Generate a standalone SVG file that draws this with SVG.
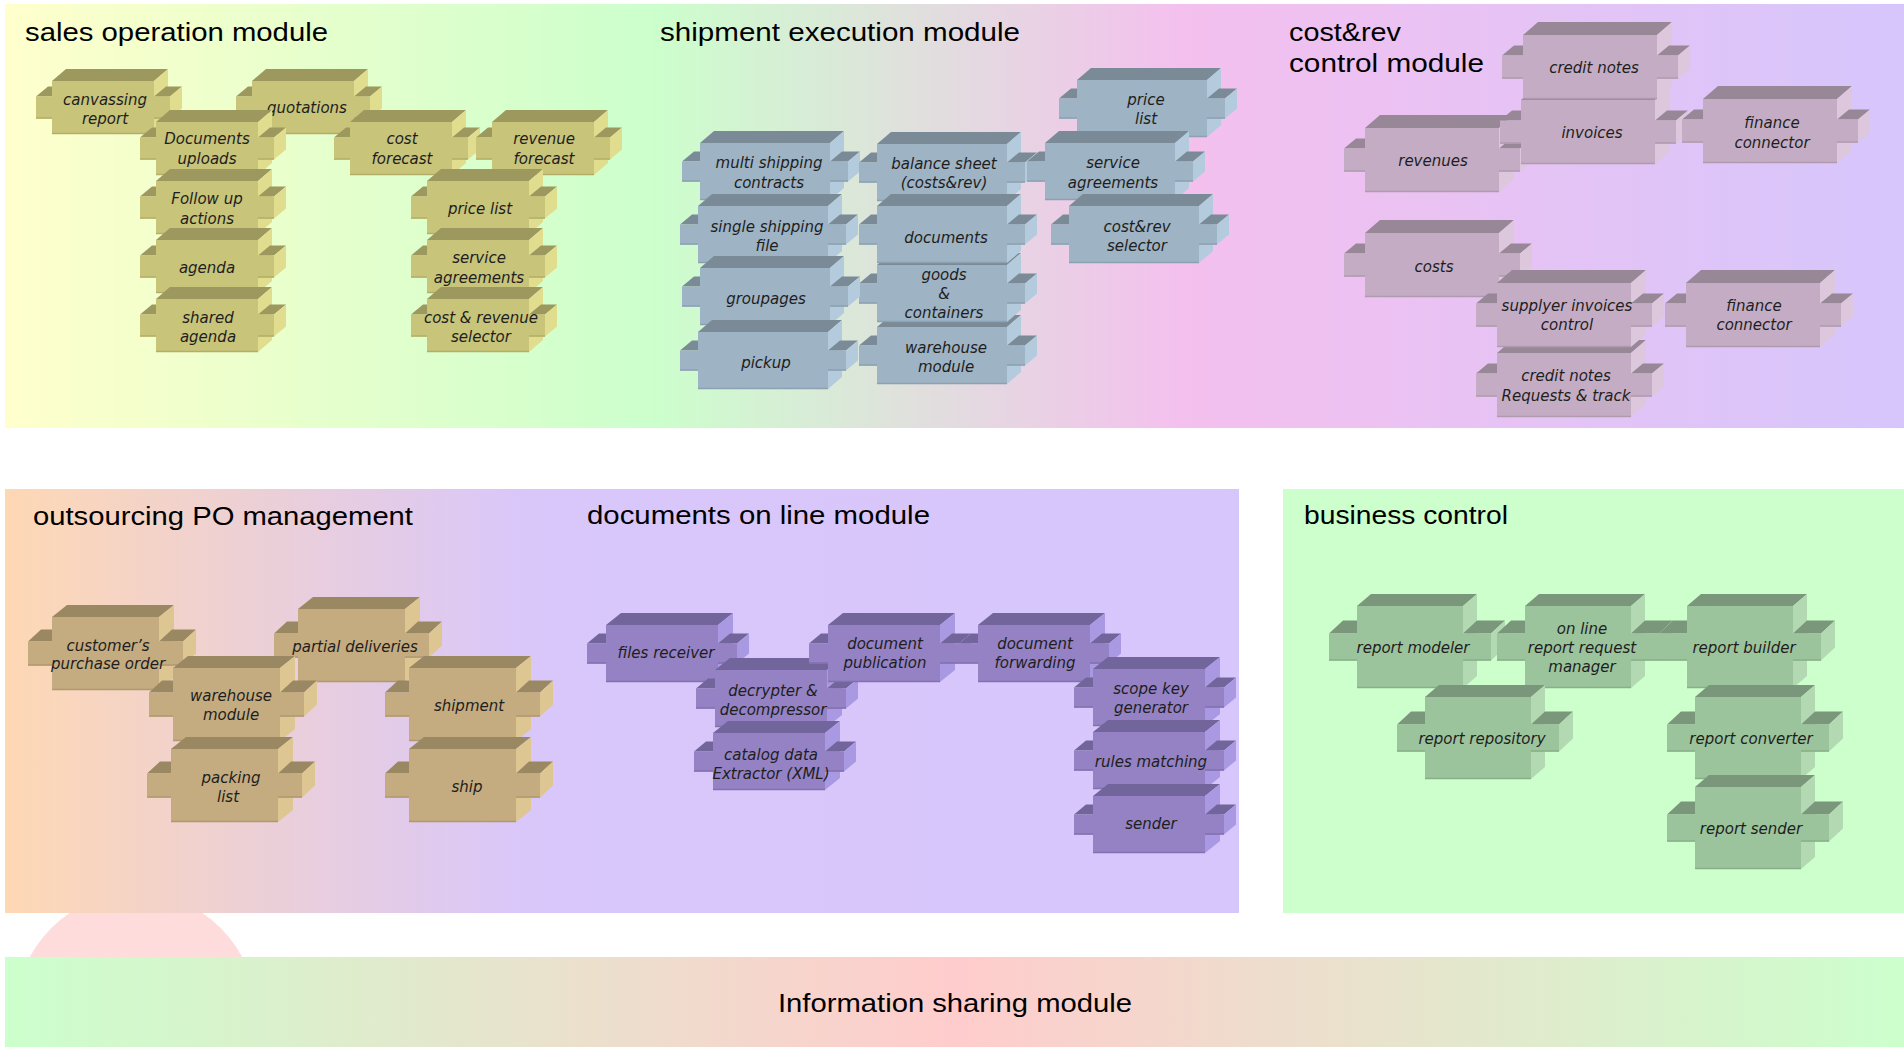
<svg xmlns="http://www.w3.org/2000/svg" xmlns:xlink="http://www.w3.org/1999/xlink" width="1904" height="1047" viewBox="0 0 1904 1047">
<style>
.title{font-family:"Liberation Sans",Arial,sans-serif;font-size:26px;fill:#000}
.lbl{font-family:"DejaVu Sans","Liberation Sans",sans-serif;font-style:italic;font-size:15px;fill:#1e1e1e;text-anchor:middle}
</style>
<defs>
<linearGradient id="gTop" x1="0" y1="0" x2="1" y2="0">
<stop offset="0" stop-color="#ffffcc"/>
<stop offset="0.34" stop-color="#ccffcc"/>
<stop offset="0.62" stop-color="#f4c0ee"/>
<stop offset="1" stop-color="#d6c6fc"/>
</linearGradient>
<linearGradient id="gBL" x1="0" y1="0" x2="1" y2="0">
<stop offset="0" stop-color="#fed8b4"/>
<stop offset="0.42" stop-color="#d9c7fa"/>
<stop offset="1" stop-color="#d7c6fc"/>
</linearGradient>
<linearGradient id="gInfo" x1="0" y1="0" x2="1" y2="0">
<stop offset="0" stop-color="#ccffcc"/>
<stop offset="0.5" stop-color="#ffcccc"/>
<stop offset="1" stop-color="#ccffcc"/>
</linearGradient>
<g id="box-sales">
<polygon fill="#9c985e" points="-16,15.5 0,15.5 12,5.5 -4,5.5"/>
<rect fill="#c8c47a" x="-16" y="15.5" width="16" height="22"/>
<polygon fill="#9c985e" points="0,0 102,0 116,-12 14,-12"/>
<polygon fill="#e0de8e" points="102,0 116,-12 116,41 102,53"/>
<rect fill="#c8c47a" x="0" y="0" width="102" height="53"/>
<polygon fill="#9c985e" points="102,15.5 118,15.5 130,5.5 114,5.5"/>
<polygon fill="#e0de8e" points="118,15.5 130,5.5 130,27.5 118,37.5"/>
<rect fill="#c8c47a" x="102" y="15.5" width="16" height="22"/>
<path d="M0,52.5H102M-16,37H0M102,37H118" stroke="#b2ae68" stroke-width="1.5"/>
</g>
<g id="box-ship">
<polygon fill="#7a8b97" points="-18,18.5 0,18.5 12,8.5 -6,8.5"/>
<rect fill="#9eb3c3" x="-18" y="18.5" width="18" height="20"/>
<polygon fill="#7a8b97" points="0,0 130,0 144,-12 14,-12"/>
<polygon fill="#b3cbdd" points="130,0 144,-12 144,45 130,57"/>
<rect fill="#9eb3c3" x="0" y="0" width="130" height="57"/>
<polygon fill="#7a8b97" points="130,18.5 148,18.5 160,8.5 142,8.5"/>
<polygon fill="#b3cbdd" points="148,18.5 160,8.5 160,28.5 148,38.5"/>
<rect fill="#9eb3c3" x="130" y="18.5" width="18" height="20"/>
<path d="M0,56.5H130M-18,38H0M130,38H148" stroke="#8ca1b1" stroke-width="1.5"/>
</g>
<g id="box-cost">
<polygon fill="#978797" points="-21,20.5 0,20.5 12,10.5 -9,10.5"/>
<rect fill="#c4adc4" x="-21" y="20.5" width="21" height="23"/>
<polygon fill="#978797" points="0,0 134,0 149,-13 15,-13"/>
<polygon fill="#dcc7dc" points="134,0 149,-13 149,51 134,64"/>
<rect fill="#c4adc4" x="0" y="0" width="134" height="64"/>
<polygon fill="#978797" points="134,20.5 155,20.5 167,10.5 146,10.5"/>
<polygon fill="#dcc7dc" points="155,20.5 167,10.5 167,33.5 155,43.5"/>
<rect fill="#c4adc4" x="134" y="20.5" width="21" height="23"/>
<path d="M0,63.5H134M-21,43H0M134,43H155" stroke="#b09ab0" stroke-width="1.5"/>
</g>
<g id="box-out">
<polygon fill="#9a8862" points="-24,24.5 0,24.5 13,12.5 -11,12.5"/>
<rect fill="#c4ac80" x="-24" y="24.5" width="24" height="24"/>
<polygon fill="#9a8862" points="0,0 107,0 122,-12 15,-12"/>
<polygon fill="#dec692" points="107,0 122,-12 122,61 107,73"/>
<rect fill="#c4ac80" x="0" y="0" width="107" height="73"/>
<polygon fill="#9a8862" points="107,24.5 131,24.5 144,12.5 120,12.5"/>
<polygon fill="#dec692" points="131,24.5 144,12.5 144,36.5 131,48.5"/>
<rect fill="#c4ac80" x="107" y="24.5" width="24" height="24"/>
<path d="M0,72.5H107M-24,48H0M107,48H131" stroke="#b09870" stroke-width="1.5"/>
</g>
<g id="box-docs">
<polygon fill="#72659b" points="-19,18.5 0,18.5 12,8.5 -7,8.5"/>
<rect fill="#9482c4" x="-19" y="18.5" width="19" height="20"/>
<polygon fill="#72659b" points="0,0 112,0 127,-12 15,-12"/>
<polygon fill="#a999e2" points="112,0 127,-12 127,45 112,57"/>
<rect fill="#9482c4" x="0" y="0" width="112" height="57"/>
<polygon fill="#72659b" points="112,18.5 131,18.5 143,8.5 124,8.5"/>
<polygon fill="#a999e2" points="131,18.5 143,8.5 143,28.5 131,38.5"/>
<rect fill="#9482c4" x="112" y="18.5" width="19" height="20"/>
<path d="M0,56.5H112M-19,38H0M112,38H131" stroke="#8270b0" stroke-width="1.5"/>
</g>
<g id="box-biz">
<polygon fill="#7b977b" points="-28,27.5 0,27.5 14,14.5 -14,14.5"/>
<rect fill="#9cc49c" x="-28" y="27.5" width="28" height="27"/>
<polygon fill="#7b977b" points="0,0 106,0 120,-12 14,-12"/>
<polygon fill="#b3d9b3" points="106,0 120,-12 120,70 106,82"/>
<rect fill="#9cc49c" x="0" y="0" width="106" height="82"/>
<polygon fill="#7b977b" points="106,27.5 134,27.5 148,14.5 120,14.5"/>
<polygon fill="#b3d9b3" points="134,27.5 148,14.5 148,41.5 134,54.5"/>
<rect fill="#9cc49c" x="106" y="27.5" width="28" height="27"/>
<path d="M0,81.5H106M-28,54H0M106,54H134" stroke="#88b088" stroke-width="1.5"/>
</g>
</defs>

<rect width="1904" height="1047" fill="#ffffff"/>
<circle cx="136" cy="1013" r="120" fill="#fedcdc"/>

<g id="panels">
<rect id="panel-top" x="5" y="4" width="1899" height="424" fill="url(#gTop)"/>
<rect id="panel-outsourcing-docs" x="5" y="489" width="1234" height="424" fill="url(#gBL)"/>
<rect id="panel-business" x="1283" y="489" width="621" height="424" fill="#ccffcc"/>
<rect id="panel-info" x="5" y="957" width="1899" height="90" fill="url(#gInfo)"/>
</g>

<g id="titles">
<text class="title" x="25" y="41" textLength="303" lengthAdjust="spacingAndGlyphs">sales operation module</text>
<text class="title" x="660" y="41" textLength="360" lengthAdjust="spacingAndGlyphs">shipment execution module</text>
<text class="title" x="1289" y="41" textLength="112" lengthAdjust="spacingAndGlyphs">cost&amp;rev</text>
<text class="title" x="1289" y="72" textLength="195" lengthAdjust="spacingAndGlyphs">control module</text>
<text class="title" x="33" y="525" textLength="380" lengthAdjust="spacingAndGlyphs">outsourcing PO management</text>
<text class="title" x="587" y="524" textLength="343" lengthAdjust="spacingAndGlyphs">documents on line module</text>
<text class="title" x="1304" y="524" textLength="204" lengthAdjust="spacingAndGlyphs">business control</text>
<text class="title" x="778" y="1012" textLength="354" lengthAdjust="spacingAndGlyphs">Information sharing module</text>
</g>

<g id="connectors"></g>

<g id="sales-nodes">
<g id="n-canvassing-report"><use href="#box-sales" x="52" y="81"/><text class="lbl"><tspan x="105" y="105">canvassing</tspan><tspan x="105" y="124">report</tspan></text></g>
<g id="n-quotations"><use href="#box-sales" x="252" y="81"/><text class="lbl" x="307" y="113">quotations</text></g>
<g id="n-documents-uploads"><use href="#box-sales" x="156" y="122"/><text class="lbl"><tspan x="207" y="144">Documents</tspan><tspan x="207" y="164">uploads</tspan></text></g>
<g id="n-cost-forecast"><use href="#box-sales" x="350" y="122"/><text class="lbl"><tspan x="402" y="144">cost</tspan><tspan x="402" y="164">forecast</tspan></text></g>
<g id="n-revenue-forecast"><use href="#box-sales" x="492" y="122"/><text class="lbl"><tspan x="544" y="144">revenue</tspan><tspan x="544" y="164">forecast</tspan></text></g>
<g id="n-follow-up-actions"><use href="#box-sales" x="156" y="181"/><text class="lbl"><tspan x="207" y="204">Follow up</tspan><tspan x="207" y="224">actions</tspan></text></g>
<g id="n-price-list"><use href="#box-sales" x="427" y="181"/><text class="lbl" x="480" y="214">price list</text></g>
<g id="n-agenda"><use href="#box-sales" x="156" y="240"/><text class="lbl" x="207" y="273">agenda</text></g>
<g id="n-service-agreements"><use href="#box-sales" x="427" y="240"/><text class="lbl"><tspan x="479" y="263">service</tspan><tspan x="479" y="283">agreements</tspan></text></g>
<g id="n-shared-agenda"><use href="#box-sales" x="156" y="299"/><text class="lbl"><tspan x="208" y="323">shared</tspan><tspan x="208" y="342">agenda</tspan></text></g>
<g id="n-cost-revenue-selector"><use href="#box-sales" x="427" y="299"/><text class="lbl"><tspan x="481" y="323">cost &amp; revenue</tspan><tspan x="481" y="342">selector</tspan></text></g>
</g>

<g id="shipment-nodes">
<g id="n-ship-price-list"><use href="#box-ship" x="1077" y="80"/><text class="lbl"><tspan x="1146" y="105">price</tspan><tspan x="1146" y="124">list</tspan></text></g>
<g id="n-multi-shipping-contracts"><use href="#box-ship" x="700" y="143"/><text class="lbl"><tspan x="769" y="168">multi shipping</tspan><tspan x="769" y="188">contracts</tspan></text></g>
<g id="n-balance-sheet"><use href="#box-ship" x="877" y="144"/><text class="lbl"><tspan x="944" y="169">balance sheet</tspan><tspan x="944" y="188">(costs&amp;rev)</tspan></text></g>
<g id="n-ship-service-agreements"><use href="#box-ship" x="1045" y="143"/><text class="lbl"><tspan x="1113" y="168">service</tspan><tspan x="1113" y="188">agreements</tspan></text></g>
<g id="n-single-shipping-file"><use href="#box-ship" x="698" y="206"/><text class="lbl"><tspan x="767" y="232">single shipping</tspan><tspan x="767" y="251">file</tspan></text></g>
<g id="n-cost-rev-selector"><use href="#box-ship" x="1069" y="206"/><text class="lbl"><tspan x="1137" y="232">cost&amp;rev</tspan><tspan x="1137" y="251">selector</tspan></text></g>
<g id="n-ship-warehouse-module"><use href="#box-ship" x="877" y="327"/><text class="lbl"><tspan x="946" y="353">warehouse</tspan><tspan x="946" y="372">module</tspan></text></g>
<g id="n-goods-containers"><use href="#box-ship" x="877" y="265"/><text class="lbl"><tspan x="944" y="280">goods</tspan><tspan x="944" y="299">&amp;</tspan><tspan x="944" y="318">containers</tspan></text></g>
<g id="n-documents"><use href="#box-ship" x="877" y="206"/><text class="lbl" x="946" y="243">documents</text></g>
<g id="n-groupages"><use href="#box-ship" x="700" y="268"/><text class="lbl" x="766" y="304">groupages</text></g>
<g id="n-pickup"><use href="#box-ship" x="698" y="332"/><text class="lbl" x="766" y="368">pickup</text></g>
</g>

<g id="cost-nodes">
<g id="n-revenues"><use href="#box-cost" x="1365" y="128"/><text class="lbl" x="1433" y="166">revenues</text></g>
<g id="n-invoices"><use href="#box-cost" x="1521" y="100"/><text class="lbl" x="1592" y="138">invoices</text></g>
<g id="n-credit-notes"><use href="#box-cost" x="1523" y="35"/><text class="lbl" x="1594" y="73">credit notes</text></g>
<g id="n-finance-connector-1"><use href="#box-cost" x="1703" y="99"/><text class="lbl"><tspan x="1772" y="128">finance</tspan><tspan x="1772" y="148">connector</tspan></text></g>
<g id="n-costs"><use href="#box-cost" x="1365" y="233"/><text class="lbl" x="1434" y="272">costs</text></g>
<g id="n-credit-notes-requests"><use href="#box-cost" x="1497" y="353"/><text class="lbl"><tspan x="1566" y="381">credit notes</tspan><tspan x="1566" y="401">Requests &amp; track</tspan></text></g>
<g id="n-supplyer-invoices-control"><use href="#box-cost" x="1497" y="283"/><text class="lbl"><tspan x="1567" y="311">supplyer invoices</tspan><tspan x="1567" y="330">control</tspan></text></g>
<g id="n-finance-connector-2"><use href="#box-cost" x="1686" y="283"/><text class="lbl"><tspan x="1754" y="311">finance</tspan><tspan x="1754" y="330">connector</tspan></text></g>
</g>

<g id="outsourcing-nodes">
<g id="n-customers-po"><use href="#box-out" x="52" y="617"/><text class="lbl"><tspan x="108" y="651">customer’s</tspan><tspan x="108" y="669">purchase order</tspan></text></g>
<g id="n-partial-deliveries"><use href="#box-out" x="298" y="609"/><text class="lbl" x="355" y="652">partial deliveries</text></g>
<g id="n-out-warehouse-module"><use href="#box-out" x="173" y="668"/><text class="lbl"><tspan x="231" y="701">warehouse</tspan><tspan x="231" y="720">module</tspan></text></g>
<g id="n-shipment"><use href="#box-out" x="409" y="668"/><text class="lbl" x="469" y="711">shipment</text></g>
<g id="n-packing-list"><use href="#box-out" x="171" y="749"/><text class="lbl"><tspan x="231" y="783">packing</tspan><tspan x="228" y="802">list</tspan></text></g>
<g id="n-ship"><use href="#box-out" x="409" y="749"/><text class="lbl" x="467" y="792">ship</text></g>
</g>

<g id="documents-nodes">
<g id="n-files-receiver"><use href="#box-docs" x="606" y="625"/><text class="lbl" x="666" y="658">files receiver</text></g>
<g id="n-decrypter"><use href="#box-docs" x="715" y="670"/><text class="lbl"><tspan x="773" y="696">decrypter &amp;</tspan><tspan x="773" y="715">decompressor</tspan></text></g>
<g id="n-catalog-extractor"><use href="#box-docs" x="713" y="733"/><text class="lbl"><tspan x="771" y="760">catalog data</tspan><tspan x="771" y="779">Extractor (XML)</tspan></text></g>
<g id="n-document-publication"><use href="#box-docs" x="828" y="625"/><text class="lbl"><tspan x="885" y="649">document</tspan><tspan x="885" y="668">publication</tspan></text></g>
<g id="n-document-forwarding"><use href="#box-docs" x="978" y="625"/><text class="lbl"><tspan x="1035" y="649">document</tspan><tspan x="1035" y="668">forwarding</tspan></text></g>
<g id="n-scope-key-generator"><use href="#box-docs" x="1093" y="669"/><text class="lbl"><tspan x="1151" y="694">scope key</tspan><tspan x="1151" y="713">generator</tspan></text></g>
<g id="n-rules-matching"><use href="#box-docs" x="1093" y="732"/><text class="lbl" x="1151" y="767">rules matching</text></g>
<g id="n-sender"><use href="#box-docs" x="1093" y="796"/><text class="lbl" x="1151" y="829">sender</text></g>
</g>

<g id="business-nodes">
<g id="n-report-modeler"><use href="#box-biz" x="1357" y="606"/><text class="lbl" x="1413" y="653">report modeler</text></g>
<g id="n-online-report-request-manager"><use href="#box-biz" x="1525" y="606"/><text class="lbl"><tspan x="1582" y="634">on line</tspan><tspan x="1582" y="653">report request</tspan><tspan x="1582" y="672">manager</tspan></text></g>
<g id="n-report-builder"><use href="#box-biz" x="1687" y="606"/><text class="lbl" x="1744" y="653">report builder</text></g>
<g id="n-report-repository"><use href="#box-biz" x="1425" y="697"/><text class="lbl" x="1482" y="744">report repository</text></g>
<g id="n-report-converter"><use href="#box-biz" x="1695" y="697"/><text class="lbl" x="1751" y="744">report converter</text></g>
<g id="n-report-sender"><use href="#box-biz" x="1695" y="787"/><text class="lbl" x="1751" y="834">report sender</text></g>
</g>
</svg>
